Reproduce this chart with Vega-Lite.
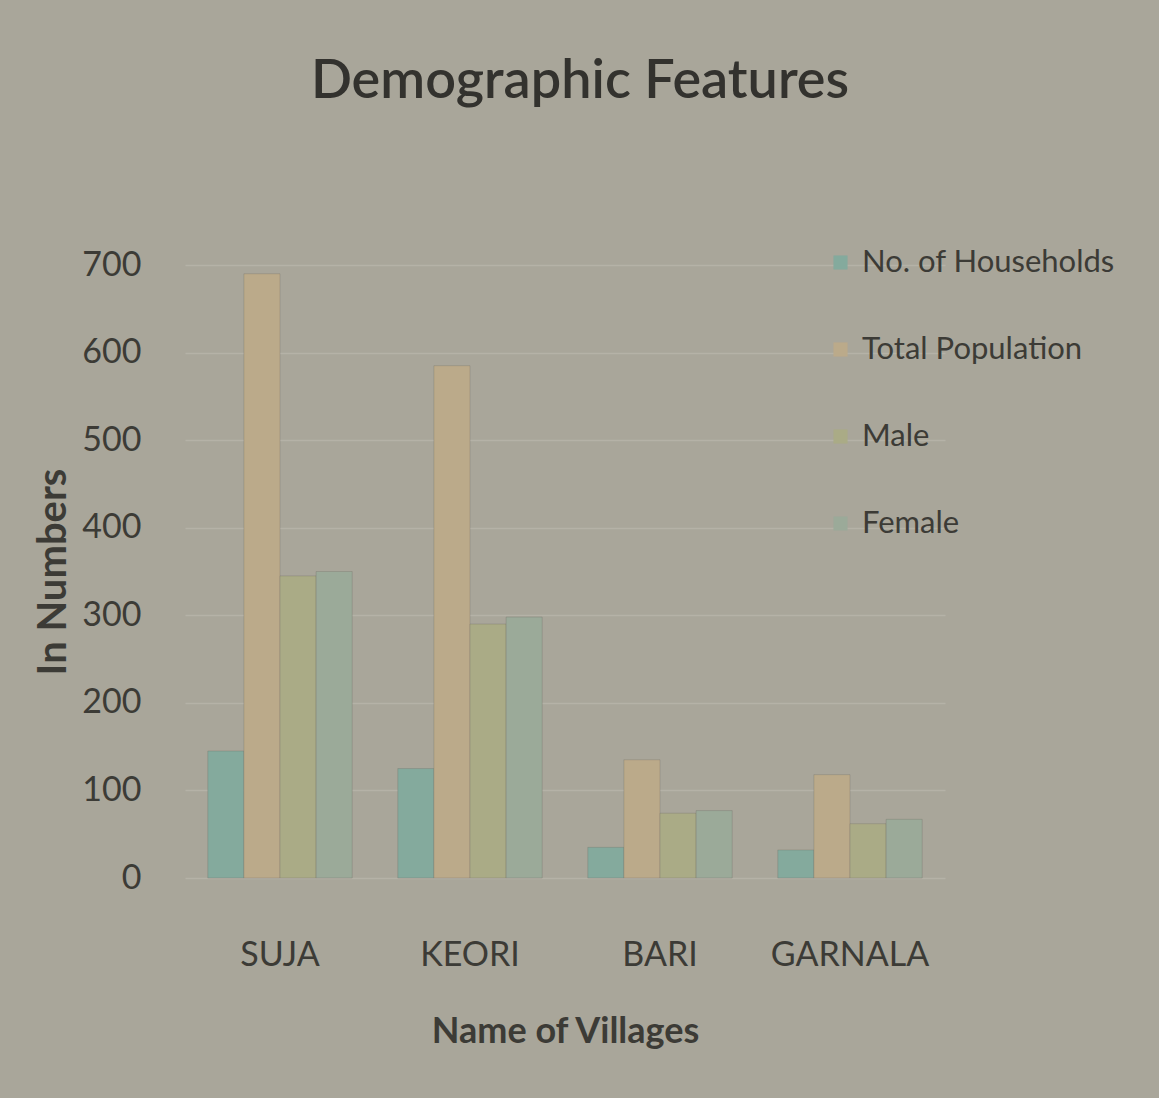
{
  "$schema": "https://vega.github.io/schema/vega-lite/v6.json",
  "autosize": "none",
  "width": 760,
  "height": 613,
  "padding": {"left": 185, "top": 265, "right": 214, "bottom": 220},
  "background": "#a9a69a",
  "title": {"text": "Demographic Features", "fontSize": 54, "font": "Lato", "fontWeight": 600, "color": "#33322e", "offset": 138, "anchor": "middle", "dx": 15},
  "data": {"values": [
    {"village": "SUJA", "series": "No. of Households", "value": 145},
    {"village": "SUJA", "series": "Total Population", "value": 690},
    {"village": "SUJA", "series": "Male", "value": 345},
    {"village": "SUJA", "series": "Female", "value": 350},
    {"village": "KEORI", "series": "No. of Households", "value": 125},
    {"village": "KEORI", "series": "Total Population", "value": 585},
    {"village": "KEORI", "series": "Male", "value": 290},
    {"village": "KEORI", "series": "Female", "value": 298},
    {"village": "BARI", "series": "No. of Households", "value": 35},
    {"village": "BARI", "series": "Total Population", "value": 135},
    {"village": "BARI", "series": "Male", "value": 74},
    {"village": "BARI", "series": "Female", "value": 77},
    {"village": "GARNALA", "series": "No. of Households", "value": 32},
    {"village": "GARNALA", "series": "Total Population", "value": 118},
    {"village": "GARNALA", "series": "Male", "value": 62},
    {"village": "GARNALA", "series": "Female", "value": 67}
  ]},
  "mark": {"type": "bar", "stroke": "#6f6d62", "strokeWidth": 1, "strokeOpacity": 0.3},
  "encoding": {
    "x": {"field": "village", "type": "nominal", "sort": ["SUJA", "KEORI", "BARI", "GARNALA"],
      "scale": {"paddingInner": 0.24, "paddingOuter": 0.12},
      "axis": {"title": "Name of Villages", "labelAngle": 0, "labelFontSize": 34, "labelFont": "Lato", "labelColor": "#3c3b36", "labelPadding": 60, "ticks": false, "domain": false, "titleFontSize": 36, "titleFont": "Lato", "titleFontWeight": "bold", "titleColor": "#3c3b36", "titlePadding": 42}},
    "xOffset": {"field": "series", "type": "nominal", "sort": ["No. of Households", "Total Population", "Male", "Female"]},
    "y": {"field": "value", "type": "quantitative", "scale": {"domain": [0, 700]},
      "axis": {"title": "In Numbers", "values": [0, 100, 200, 300, 400, 500, 600, 700], "labelFontSize": 34, "labelFont": "Lato", "labelColor": "#3c3b36", "labelPadding": 44, "ticks": false, "domain": false, "grid": true, "gridColor": "#b5b2a7", "gridWidth": 1.5, "titleFontSize": 40, "titleFont": "Lato", "titleFontWeight": "bold", "titleColor": "#3c3b36", "titlePadding": 8}},
    "color": {"field": "series", "type": "nominal", "sort": ["No. of Households", "Total Population", "Male", "Female"],
      "scale": {"domain": ["No. of Households", "Total Population", "Male", "Female"], "range": ["#84aa9d", "#bbaa8a", "#aaab86", "#9baa99"]},
      "legend": {"title": null, "orient": "none", "legendX": 640, "legendY": -18, "labelFontSize": 31, "labelFont": "Lato", "labelColor": "#3c3b36", "symbolType": "square", "symbolSize": 200, "symbolStrokeWidth": 0, "rowPadding": 55, "labelOffset": 6, "labelLimit": 400}}
  },
  "config": {"view": {"stroke": null}}
}
